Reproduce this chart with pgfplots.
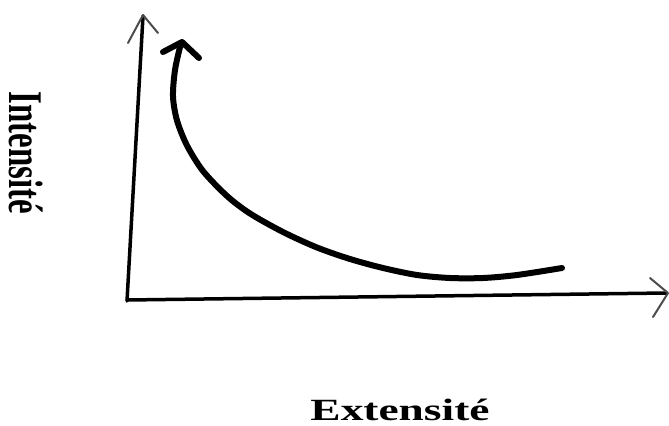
\documentclass[border=0pt]{standalone}
\usepackage{fontspec}
\setmainfont{Liberation Serif}
\usepackage{graphicx}
\usepackage{pgfplots}
\pgfplotsset{compat=1.18}

\begin{document}
\begin{tikzpicture}
    \begin{axis}[
        width=669bp,
        height=426bp,
        scale only axis,
        xmin=0, xmax=669,
        ymin=0, ymax=426,
        y dir=reverse,
        hide axis,
        clip=false,
    ]
        % axes drawn by hand
        \addplot[black, line width=3.5bp, line cap=round] coordinates {(127,301) (143,16)};
        \addplot[black!70, line width=2bp, line cap=round, line join=round] coordinates {(128,43) (143,15) (158,33)};
        \addplot[black, line width=3.5bp, line cap=round] coordinates {(127,300) (666,293)};
        \addplot[black!70, line width=2bp, line cap=round, line join=round] coordinates {(650,278) (668,293) (653,317)};
        % the curve
        \addplot[black, line width=6bp, smooth, line cap=round] coordinates {
            (562,268) (517,275) (483,278) (450,278) (417,275) (383,268)
            (350,259) (317,247.5) (283,232) (250,213.5) (227,196) (203,171)
            (187,145.5) (177,120.5) (173,96.5) (175,70) (180,47)
        };
        \addplot[black, line width=6bp, line cap=round, line join=round] coordinates {(163,52) (182,42) (199,58)};
        \node[anchor=base] at (axis cs:400,420)
            {\scalebox{1.47}[1]{\fontsize{31}{37}\selectfont\bfseries Extensité}};
        \node at (axis cs:26,153)
            {\scalebox{1.47}[1]{\rotatebox{-90}{\fontsize{33}{40}\selectfont\bfseries Intensité}}};
    \end{axis}
    \pgfresetboundingbox
    \path[use as bounding box] (current axis.south west) rectangle (current axis.north east);
\end{tikzpicture}
\end{document}
